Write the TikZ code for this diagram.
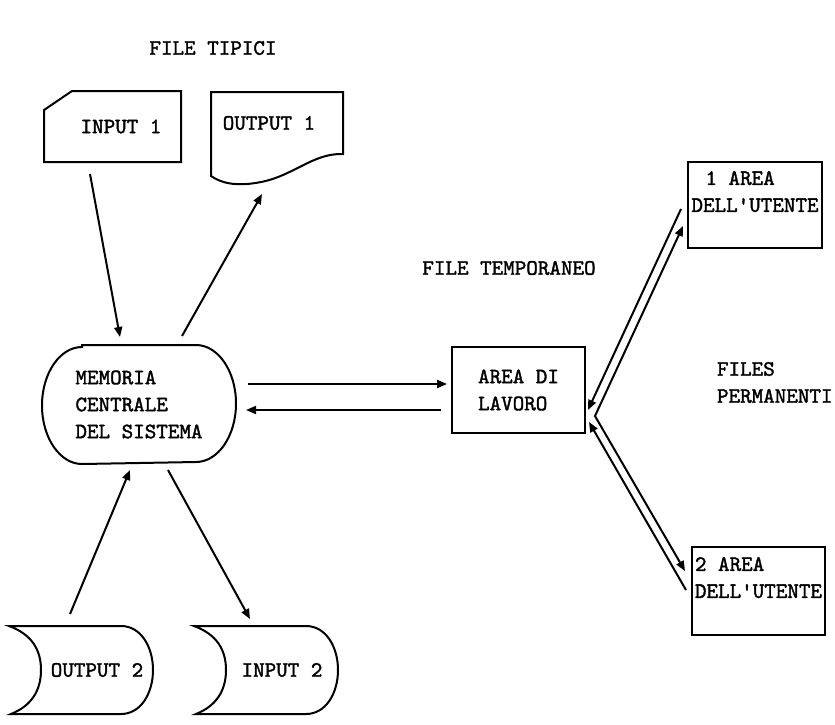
\documentclass[tikz,border=0pt]{standalone}
\usepackage{fontspec}
\newfontfamily\typew[FakeBold=1.6]{lmmono10-regular.otf}
\usetikzlibrary{arrows.meta, positioning, calc}

\begin{document}
\begin{tikzpicture}[
    x=0.5pt, y=-0.5pt,
    line width=1pt,
    txt/.style={font=\typew\fontsize{11}{13.5}\selectfont, inner sep=0pt, align=left},
    box/.style={draw, txt, inner xsep=1pt, minimum width=#1, minimum height=43pt},
    box/.default=67pt,
    storebox/.style={txt, minimum width=#1, minimum height=43pt},
    arrow/.style={-{Triangle[length=5pt, width=4pt]}},
    dblarrow/.style={{Triangle[length=5pt, width=4pt]}-{Triangle[length=5pt, width=4pt]}}
]
\path[use as bounding box, fill=white] (0,0) rectangle (835,724);

% Titles
\node[txt] (title) at (213,48) {FILE TIPICI};
\node[txt] (temp) at (509,268) {FILE TEMPORANEO};
\node[txt, anchor=west] (perm) at (716,382.5) {FILES\\PERMANENTI};

% Typical files
\node[txt, minimum width=59pt, minimum height=34.5pt] (inp1) at (121,126.5) {INPUT 1};
\node[txt, minimum width=57pt, minimum height=30pt, right=15pt of inp1, yshift=1.75pt] (out1) {OUTPUT 1};
\node[txt, minimum width=96pt, minimum height=58.5pt] (mem) at (139,404.5) {MEMORIA\\CENTRALE\\DEL SISTEMA};
\node[storebox=55pt] (out2) at (97,670) {OUTPUT 2};
\node[storebox=55pt, right=36.5pt of out2] (inp2) {INPUT 2};

% Temporary and permanent files
\node[box=66.5pt] (area) at (518.5,390) {AREA DI\\LAVORO};
\node[box] (u1) at (755,205) {\hspace*{7pt}1 AREA\\DELL'UTENTE\\~};
\node[box=66.5pt, minimum height=44pt, below=148.5pt of u1, xshift=1.75pt] (u2) {2 AREA\\DELL'UTENTE\\~};

% Outlines
\draw ($(inp1.north west)+(11,0)$) -- (inp1.north east) -- (inp1.south east)
    -- ($(inp1.south west)+(-17,0)$) -- ($(inp1.north west)+(-17,19)$) -- cycle;
\draw (out1.north west) -- ($(out1.north east)+(16,0)$) -- ($(out1.south east)+(16,0)$)
    .. controls ($(out1.south east)+(-14,-1)$) and ($(out1.south east)+(-34,22)$) .. ($(out1.south west)+(50,28)$)
    .. controls ($(out1.south west)+(25,33)$) and ($(out1.south west)+(10,29)$) .. ($(out1.south west)+(0,22)$) -- cycle;
\draw ($(mem.north west)+(40,0)$) -- ($(mem.north east)+(-40,0)$)
    arc[start angle=90, end angle=-90, x radius=20pt, y radius=29.25pt]
    -- ($(mem.south west)+(40,0)$)
    arc[start angle=270, end angle=90, x radius=20pt, y radius=29.25pt] -- cycle;
\foreach \n in {out2, inp2} {
  \draw ($(\n.north west)+(-32,0)$) -- ($(\n.north east)+(-32,0)$)
      .. controls ($(\n.north east)+(-12,0)$) and ($(\n.north east)+(0,21)$) .. (\n.east)
      .. controls ($(\n.south east)+(0,-21)$) and ($(\n.south east)+(-12,0)$) .. ($(\n.south east)+(-32,0)$)
      -- ($(\n.south west)+(-30,0)$)
      .. controls ($(\n.south west)+(-10,-8)$) and ($(\n.south west)+(0,-23)$) .. (\n.west)
      .. controls ($(\n.north west)+(0,23)$) and ($(\n.north west)+(-10,8)$) .. ($(\n.north west)+(-32,0)$) -- cycle;
}

% Arrows
\draw[arrow] ($(inp1.south)+(-31,12)$) -- ($(mem.north)+(-19,-8)$);
\draw[arrow] ($(mem.north)+(43,-9)$) -- ($(out1.south)+(-7,40)$);
\draw[arrow] ($(mem.east)+(12,-20.5)$) -- ($(area.west)+(-4,-6)$);
\draw[arrow] ($(area.west)+(-10,20)$) -- ($(mem.east)+(10,5.5)$);
\draw[arrow] ($(out2.north)+(-27,-12)$) -- ($(mem.south)+(-9,6)$);
\draw[arrow] ($(mem.south)+(29,6)$) -- ($(inp2.north)+(-32,-7)$);

\coordinate (v) at ($(area.east)+(9,26)$);
\draw[dblarrow] ($(u1.west)+(-4,21)$) -- (v) -- ($(u2.west)+(-6,-20)$);
\draw[arrow] ($(u1.west)+(-6,4)$) -- ($(area.east)+(2,20)$);
\draw[arrow] ($(u2.west)+(-5,-1)$) -- ($(area.east)+(3,32)$);
\end{tikzpicture}
\end{document}
